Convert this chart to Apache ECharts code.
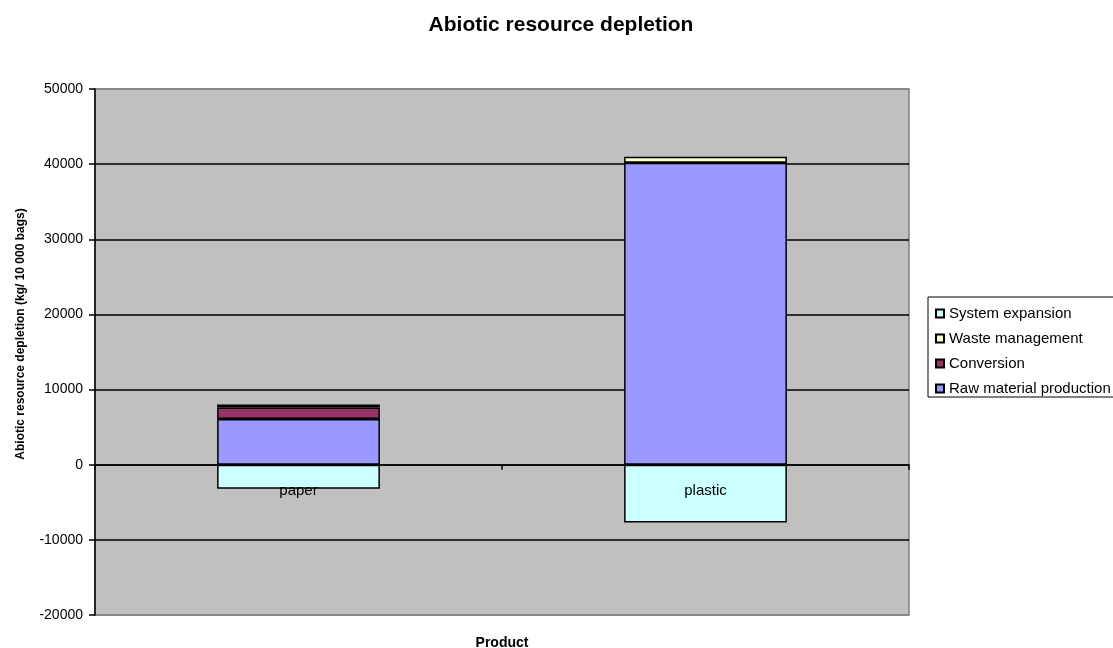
<!DOCTYPE html>
<html>
<head>
<meta charset="utf-8">
<script src="https://cdn.jsdelivr.net/npm/echarts@6/dist/echarts.min.js"></script>
<style>
  html, body { margin: 0; padding: 0; background: #ffffff; }
  #chart { width: 1113px; height: 648px; }
</style>
</head>
<body>
<div id="chart"></div>
<script>
// Abiotic resource depletion per life-cycle stage (kg / 10 000 bags)
const products = ['paper', 'plastic'];
const rawMaterial = [6100, 40200];
const conversion = [1500, 0];
const wasteManagement = [400, 800];
const systemExpansion = [-3200, -7700];

const yMin = -20000;
const yMax = 50000;
const yStep = 10000;

const font = 'Arial, "Liberation Sans", sans-serif';

function barSeries(name, data, color, extra) {
  return Object.assign({
    name: name,
    type: 'bar',
    stack: 'total',
    data: data,
    barWidth: '40%',
    itemStyle: { color: color, borderColor: '#000000', borderWidth: 1.5 },
    emphasis: { disabled: true }
  }, extra || {});
}

const chart = echarts.init(document.getElementById('chart'), null, { renderer: 'canvas' });

chart.setOption({
  animation: false,
  backgroundColor: '#ffffff',
  title: [
    {
      text: 'Abiotic resource depletion',
      left: 556,
      top: 10,
      textAlign: 'center',
      textStyle: { fontFamily: font, fontSize: 21, fontWeight: 'bold', color: '#000000' }
    },
    {
      text: 'Product',
      left: 502,
      top: 636,
      textAlign: 'center',
      padding: 0,
      textStyle: { fontFamily: font, fontSize: 14, fontWeight: 'bold', color: '#000000' }
    }
  ],
  graphic: [
    {
      type: 'text',
      x: 21,
      y: 334,
      rotation: Math.PI / 2,
      style: {
        text: 'Abiotic resource depletion (kg/ 10 000 bags)',
        font: 'bold 12px ' + font,
        fill: '#000000',
        align: 'center',
        verticalAlign: 'middle'
      }
    }
  ],
  legend: {
    orient: 'vertical',
    left: 928,
    top: 297,
    padding: [9, 8, 1, 7],
    itemGap: 10,
    itemWidth: 8,
    itemHeight: 8,
    icon: 'rect',
    borderColor: '#000000',
    borderWidth: 1,
    backgroundColor: '#ffffff',
    data: ['System expansion', 'Waste management', 'Conversion', 'Raw material production'],
    textStyle: { fontFamily: font, fontSize: 15, color: '#000000', lineHeight: 15 }
  },
  grid: {
    left: 95,
    right: 204,
    top: 89,
    bottom: 33,
    show: true,
    backgroundColor: '#c0c0c0',
    borderColor: '#808080',
    borderWidth: 1.5
  },
  xAxis: {
    type: 'category',
    data: products,
    z: 3,
    axisLine: { onZero: true, lineStyle: { color: '#000000', width: 1.5 } },
    axisTick: { show: true, length: 5, lineStyle: { color: '#000000', width: 1.5 } },
    axisLabel: { show: false },
    splitLine: { show: false }
  },
  yAxis: {
    type: 'value',
    min: yMin,
    max: yMax,
    interval: yStep,
    axisLine: { show: true, lineStyle: { color: '#000000', width: 1.5 } },
    axisTick: { show: true, length: 6, lineStyle: { color: '#000000', width: 1.5 } },
    axisLabel: {
      fontFamily: font,
      fontSize: 14,
      color: '#000000',
      margin: 12,
      formatter: function (v) { return String(v); }
    },
    splitLine: {
      show: true,
      lineStyle: {
        color: ['#808080', '#000000', '#000000', '#000000', '#000000', '#000000', '#000000', '#808080'],
        width: 1.5
      }
    }
  },
  series: [
    barSeries('Raw material production', rawMaterial, '#9999ff'),
    barSeries('Conversion', conversion, '#993366'),
    barSeries('Waste management', wasteManagement, '#ffffcc'),
    // category names sit just under the zero line, over the negative segment
    barSeries('System expansion', systemExpansion, '#ccffff', {
      label: {
        show: true,
        formatter: '{b}',
        position: ['50%', 26],
        align: 'center',
        verticalAlign: 'middle',
        fontFamily: font,
        fontSize: 15,
        color: '#000000'
      },
      z: 3
    })
  ]
});
</script>
</body>
</html>
